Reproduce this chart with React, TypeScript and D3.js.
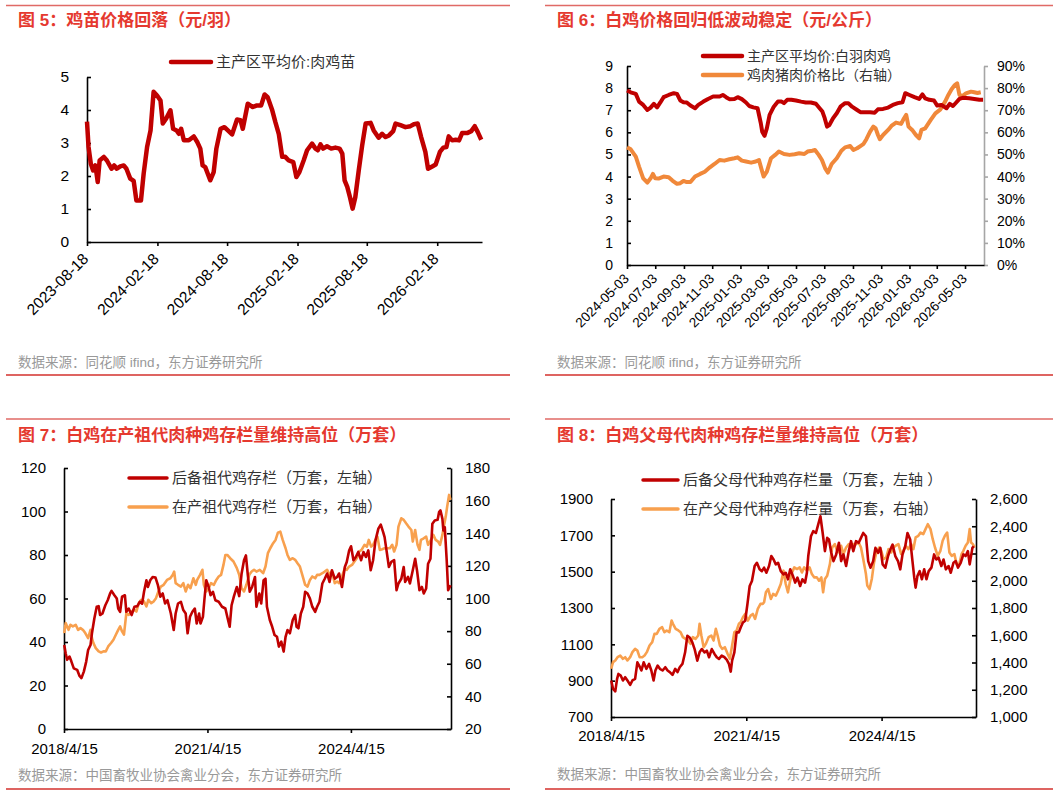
import React, { useEffect, useRef } from 'react';
import * as d3 from 'd3';

const W = 1061;
const H = 796;
const FONT = "'Liberation Sans', 'Noto Sans CJK SC', sans-serif";
const RED = '#C00000';
const ORANGE_6 = '#F0883A';
const ORANGE = '#F8A04E';
const TITLE_RED = '#E5392F';

// ---------- 图5 ----------
const P5_TICKS = ['2023-08-18', '2024-02-18', '2024-08-18', '2025-02-18', '2025-08-18', '2026-02-18'];
const chickPrice: [string, number][] = [
  ['2023-08-18', 3.65], ['2023-08-22', 2.88], ['2023-08-28', 2.37], ['2023-09-03', 2.17], ['2023-09-09', 2.32],
  ['2023-09-15', 1.82], ['2023-09-20', 2.47], ['2023-10-01', 2.58], ['2023-10-09', 2.47], ['2023-10-21', 2.22],
  ['2023-10-28', 2.32], ['2023-11-04', 2.22], ['2023-11-13', 2.29], ['2023-11-22', 2.32], ['2023-11-29', 2.22],
  ['2023-12-09', 1.92], ['2023-12-18', 1.85], ['2023-12-25', 1.26], ['2024-01-06', 1.26], ['2024-01-13', 2.07],
  ['2024-01-22', 2.88], ['2024-01-31', 3.38], ['2024-02-08', 4.55], ['2024-02-17', 4.44], ['2024-02-26', 4.29],
  ['2024-03-03', 3.59], ['2024-03-12', 3.74], ['2024-03-23', 3.99], ['2024-03-30', 3.43], ['2024-04-08', 3.38],
  ['2024-04-14', 3.28], ['2024-04-20', 3.43], ['2024-04-27', 3.08], ['2024-05-10', 3.08], ['2024-05-23', 3.2],
  ['2024-06-01', 3.03], ['2024-06-09', 2.83], ['2024-06-15', 2.32], ['2024-06-22', 2.27], ['2024-07-05', 1.87],
  ['2024-07-14', 2.12], ['2024-07-21', 2.83], ['2024-08-01', 3.43], ['2024-08-11', 3.48], ['2024-08-20', 3.38],
  ['2024-08-31', 3.26], ['2024-09-13', 3.71], ['2024-09-22', 3.69], ['2024-09-28', 3.43], ['2024-10-05', 3.84],
  ['2024-10-11', 4.19], ['2024-10-24', 4.09], ['2024-11-04', 4.14], ['2024-11-15', 4.14], ['2024-11-24', 4.47],
  ['2024-12-02', 4.39], ['2024-12-14', 3.99], ['2024-12-22', 3.64], ['2024-12-31', 3.28], ['2025-01-09', 2.58],
  ['2025-01-17', 2.58], ['2025-01-26', 2.47], ['2025-02-07', 2.42], ['2025-02-15', 1.97], ['2025-02-23', 2.12],
  ['2025-03-06', 2.47], ['2025-03-15', 2.78], ['2025-03-28', 2.98], ['2025-04-06', 2.83], ['2025-04-12', 2.78],
  ['2025-04-19', 2.96], ['2025-04-26', 2.83], ['2025-05-06', 2.9], ['2025-05-17', 2.83], ['2025-05-28', 2.86],
  ['2025-06-08', 2.83], ['2025-06-15', 2.68], ['2025-06-21', 1.87], ['2025-06-28', 1.67], ['2025-07-05', 1.36],
  ['2025-07-12', 1.01], ['2025-07-19', 1.36], ['2025-07-28', 2.17], ['2025-08-06', 2.93], ['2025-08-15', 3.59],
  ['2025-08-28', 3.61], ['2025-09-05', 3.38], ['2025-09-18', 3.16], ['2025-09-27', 3.28], ['2025-10-06', 3.18],
  ['2025-10-15', 3.23], ['2025-10-26', 3.36], ['2025-11-01', 3.59], ['2025-11-14', 3.54], ['2025-11-27', 3.48],
  ['2025-12-10', 3.51], ['2025-12-19', 3.57], ['2025-12-29', 3.59], ['2026-01-07', 3.18], ['2026-01-18', 2.73],
  ['2026-01-25', 2.22], ['2026-02-05', 2.29], ['2026-02-14', 2.35], ['2026-02-25', 2.73], ['2026-03-06', 2.86],
  ['2026-03-14', 2.88], ['2026-03-20', 3.2], ['2026-03-29', 3.08], ['2026-04-07', 3.1], ['2026-04-16', 3.08],
  ['2026-04-24', 3.3], ['2026-05-07', 3.3], ['2026-05-18', 3.36], ['2026-05-27', 3.51], ['2026-06-04', 3.33],
  ['2026-06-13', 3.1]
];

// ---------- 图6 ----------
const P6_TICKS = ['2024-05-03', '2024-07-03', '2024-09-03', '2024-11-03', '2025-01-03', '2025-03-03', '2025-05-03',
  '2025-07-03', '2025-09-03', '2025-11-03', '2026-01-03', '2026-03-03', '2026-05-03'];
const broilerPrice: [string, number][] = [
  ['2024-05-03', 7.89], ['2024-05-11', 7.81], ['2024-05-22', 7.74], ['2024-05-29', 7.39], ['2024-06-07', 7.24],
  ['2024-06-16', 7.01], ['2024-06-23', 7.12], ['2024-06-30', 7.29], ['2024-07-07', 7.13], ['2024-07-14', 7.35],
  ['2024-07-21', 7.59], ['2024-08-01', 7.69], ['2024-08-12', 7.77], ['2024-08-19', 7.74], ['2024-08-26', 7.44],
  ['2024-09-02', 7.36], ['2024-09-09', 7.35], ['2024-09-17', 7.21], ['2024-09-27', 7.09], ['2024-10-04', 7.24],
  ['2024-10-15', 7.39], ['2024-10-25', 7.51], ['2024-11-05', 7.62], ['2024-11-19', 7.62], ['2024-11-26', 7.69],
  ['2024-12-03', 7.59], ['2024-12-10', 7.5], ['2024-12-21', 7.51], ['2024-12-28', 7.59], ['2025-01-06', 7.5],
  ['2025-01-15', 7.35], ['2025-01-22', 7.19], ['2025-01-31', 7.13], ['2025-02-09', 7.09], ['2025-02-16', 6.41],
  ['2025-02-19', 6.03], ['2025-02-24', 5.84], ['2025-03-01', 6.18], ['2025-03-07', 6.79], ['2025-03-16', 7.16],
  ['2025-03-25', 7.39], ['2025-04-02', 7.39], ['2025-04-07', 7.32], ['2025-04-14', 7.47], ['2025-04-23', 7.47],
  ['2025-05-03', 7.44], ['2025-05-14', 7.39], ['2025-05-24', 7.35], ['2025-06-04', 7.35], ['2025-06-15', 7.29],
  ['2025-06-23', 7.09], ['2025-06-29', 6.94], ['2025-07-04', 6.64], ['2025-07-09', 6.26], ['2025-07-14', 6.33],
  ['2025-07-22', 6.64], ['2025-07-30', 6.86], ['2025-08-07', 7.16], ['2025-08-17', 7.32], ['2025-08-24', 7.32],
  ['2025-09-01', 7.16], ['2025-09-12', 7.01], ['2025-09-19', 6.91], ['2025-09-29', 6.91], ['2025-10-10', 6.91],
  ['2025-10-20', 6.89], ['2025-10-27', 7.04], ['2025-11-07', 7.06], ['2025-11-18', 7.12], ['2025-11-28', 7.24],
  ['2025-12-09', 7.32], ['2025-12-19', 7.36], ['2025-12-25', 7.77], ['2026-01-03', 7.69], ['2026-01-14', 7.59],
  ['2026-01-24', 7.51], ['2026-01-31', 7.72], ['2026-02-06', 7.54], ['2026-02-15', 7.47], ['2026-02-25', 7.44],
  ['2026-03-04', 7.21], ['2026-03-13', 7.24], ['2026-03-24', 7.09], ['2026-03-31', 7.29], ['2026-04-07', 7.19],
  ['2026-04-14', 7.35], ['2026-04-21', 7.51], ['2026-04-28', 7.56], ['2026-05-12', 7.54], ['2026-05-23', 7.51],
  ['2026-06-03', 7.47], ['2026-06-11', 7.47]
];
const meatPorkRatio: [string, number][] = [
  ['2024-05-03', 53.2], ['2024-05-11', 52.3], ['2024-05-22', 49.0], ['2024-05-29', 44.5], ['2024-06-07', 39.2],
  ['2024-06-16', 37.3], ['2024-06-23', 39.2], ['2024-06-28', 41.2], ['2024-07-03', 39.2], ['2024-07-10', 39.1],
  ['2024-07-21', 40.0], ['2024-08-01', 39.7], ['2024-08-09', 38.2], ['2024-08-19', 36.7], ['2024-08-26', 37.0],
  ['2024-09-02', 38.0], ['2024-09-09', 37.5], ['2024-09-17', 37.5], ['2024-09-27', 40.0], ['2024-10-08', 41.2],
  ['2024-10-18', 42.2], ['2024-10-29', 44.2], ['2024-11-08', 45.7], ['2024-11-19', 47.5], ['2024-11-29', 47.2],
  ['2024-12-10', 47.8], ['2024-12-21', 48.3], ['2024-12-28', 48.7], ['2025-01-06', 47.2], ['2025-01-15', 46.8],
  ['2025-01-26', 46.3], ['2025-02-05', 46.8], ['2025-02-12', 47.5], ['2025-02-17', 43.7], ['2025-02-22', 40.0],
  ['2025-03-01', 42.2], ['2025-03-10', 48.3], ['2025-03-19', 49.8], ['2025-03-27', 51.3], ['2025-04-07', 50.2],
  ['2025-04-19', 49.8], ['2025-04-30', 50.1], ['2025-05-10', 50.5], ['2025-05-21', 50.2], ['2025-05-28', 51.3],
  ['2025-06-07', 51.7], ['2025-06-13', 52.0], ['2025-06-21', 49.8], ['2025-06-28', 47.5], ['2025-07-05', 43.7],
  ['2025-07-11', 41.8], ['2025-07-19', 45.7], ['2025-07-30', 48.3], ['2025-08-09', 51.7], ['2025-08-17', 53.2],
  ['2025-08-28', 53.8], ['2025-09-04', 52.0], ['2025-09-12', 52.8], ['2025-09-19', 53.8], ['2025-09-26', 54.8],
  ['2025-10-02', 56.9], ['2025-10-10', 60.3], ['2025-10-17', 62.6], ['2025-10-22', 61.8], ['2025-10-27', 58.8],
  ['2025-10-31', 56.9], ['2025-11-07', 58.8], ['2025-11-18', 61.1], ['2025-11-25', 62.9], ['2025-12-05', 64.4],
  ['2025-12-16', 63.8], ['2025-12-21', 65.9], ['2025-12-27', 67.9], ['2026-01-01', 62.6], ['2026-01-10', 60.8],
  ['2026-01-17', 58.8], ['2026-01-24', 57.3], ['2026-01-29', 61.1], ['2026-02-06', 61.8], ['2026-02-18', 65.6],
  ['2026-02-28', 68.6], ['2026-03-11', 70.4], ['2026-03-21', 73.9], ['2026-03-28', 76.9], ['2026-04-04', 79.5],
  ['2026-04-11', 81.4], ['2026-04-16', 82.2], ['2026-04-21', 76.9], ['2026-04-28', 76.5], ['2026-05-05', 77.6],
  ['2026-05-16', 78.4], ['2026-05-23', 78.1], ['2026-05-30', 77.8], ['2026-06-06', 78.1]
];

// ---------- 图7 / 图8 (x in decimal years) ----------
const STOCK_TICKS = ['2018-04-15', '2021-04-15', '2024-04-15'];
const STOCK_START = 2018.285;
const STOCK_END = 2026.38;
const P7_LEFT_TICKS = [0, 20, 40, 60, 80, 100, 120];
const P7_RIGHT_TICKS = [20, 40, 60, 80, 100, 120, 140, 160, 180];
const P8_LEFT_TICKS = [700, 900, 1100, 1300, 1500, 1700, 1900];
const P8_RIGHT_TICKS = [1000, 1200, 1400, 1600, 1800, 2000, 2200, 2400, 2600];

const reserveGP: [number, number][] = [
  [2018.29, 38.6], [2018.32, 34.8], [2018.35, 31.8], [2018.40, 33.3], [2018.44, 31.0], [2018.49, 27.9], [2018.56, 27.2],
  [2018.61, 24.4], [2018.65, 23.4], [2018.70, 26.4], [2018.75, 31.0], [2018.79, 36.3], [2018.84, 38.6], [2018.87, 44.0],
  [2018.92, 50.8], [2018.97, 56.2], [2019.01, 56.5], [2019.04, 52.4], [2019.09, 53.1], [2019.15, 56.9], [2019.20, 59.2],
  [2019.25, 62.3], [2019.28, 63.5], [2019.34, 61.5], [2019.39, 60.0], [2019.42, 55.4], [2019.46, 53.9], [2019.50, 60.8],
  [2019.56, 61.5], [2019.59, 53.9], [2019.64, 55.4], [2019.70, 52.4], [2019.76, 56.2], [2019.82, 56.5], [2019.87, 58.5],
  [2019.92, 57.6], [2019.96, 63.1], [2020.01, 68.4], [2020.04, 65.3], [2020.09, 68.4], [2020.14, 69.9], [2020.20, 69.6],
  [2020.25, 66.1], [2020.30, 60.8], [2020.35, 62.3], [2020.40, 57.7], [2020.45, 59.2], [2020.52, 53.1], [2020.58, 45.5],
  [2020.62, 53.1], [2020.67, 57.7], [2020.73, 58.5], [2020.78, 54.7], [2020.83, 53.1], [2020.87, 44.0], [2020.92, 51.6],
  [2020.97, 53.9], [2021.02, 55.4], [2021.06, 48.5], [2021.11, 53.1], [2021.14, 48.5], [2021.19, 51.6], [2021.22, 59.2],
  [2021.26, 68.4], [2021.31, 65.3], [2021.35, 61.5], [2021.40, 63.1], [2021.45, 59.2], [2021.52, 58.5], [2021.59, 56.2],
  [2021.66, 55.4], [2021.70, 51.6], [2021.75, 47.0], [2021.79, 56.9], [2021.84, 61.1], [2021.90, 65.3], [2021.95, 61.1],
  [2022.00, 71.5], [2022.05, 77.6], [2022.09, 79.8], [2022.13, 70.7], [2022.17, 63.1], [2022.22, 65.3], [2022.28, 69.9],
  [2022.31, 56.2], [2022.37, 62.3], [2022.41, 57.7], [2022.46, 68.4], [2022.50, 69.1], [2022.53, 56.2], [2022.59, 50.1],
  [2022.64, 47.0], [2022.69, 43.2], [2022.74, 42.4], [2022.78, 37.9], [2022.83, 40.2], [2022.88, 35.6], [2022.92, 42.4],
  [2022.96, 45.5], [2023.01, 44.0], [2023.07, 50.1], [2023.12, 52.4], [2023.15, 47.0], [2023.19, 46.3], [2023.24, 53.1],
  [2023.29, 56.2], [2023.33, 63.1], [2023.38, 62.3], [2023.43, 60.0], [2023.48, 56.2], [2023.54, 53.9], [2023.58, 56.2],
  [2023.63, 58.5], [2023.69, 66.9], [2023.74, 69.1], [2023.79, 71.5], [2023.84, 67.6], [2023.89, 73.0], [2023.95, 69.1],
  [2024.00, 69.9], [2024.04, 71.5], [2024.10, 65.3], [2024.16, 74.5], [2024.20, 76.8], [2024.25, 82.1], [2024.29, 84.0],
  [2024.34, 77.6], [2024.39, 79.1], [2024.44, 81.4], [2024.50, 77.6], [2024.55, 81.4], [2024.60, 79.1], [2024.65, 82.1],
  [2024.70, 73.0], [2024.75, 77.6], [2024.80, 86.7], [2024.86, 92.1], [2024.91, 94.0], [2024.96, 90.5], [2024.99, 88.2],
  [2025.03, 82.1], [2025.08, 74.5], [2025.13, 76.8], [2025.19, 77.6], [2025.24, 63.8], [2025.28, 66.9], [2025.34, 69.1],
  [2025.39, 74.5], [2025.42, 67.6], [2025.48, 69.9], [2025.52, 66.9], [2025.58, 73.0], [2025.63, 78.3], [2025.67, 72.7],
  [2025.72, 63.8], [2025.77, 65.3], [2025.81, 62.3], [2025.86, 64.6], [2025.90, 76.0], [2025.95, 78.3], [2025.99, 94.4],
  [2026.04, 95.9], [2026.10, 96.2], [2026.13, 99.7], [2026.16, 100.5], [2026.20, 96.6], [2026.22, 91.3], [2026.25, 92.8],
  [2026.29, 77.6], [2026.32, 63.8], [2026.37, 66.1]
];
const layingGP: [number, number][] = [
  [2018.29, 78.8], [2018.32, 84.9], [2018.38, 80.8], [2018.42, 83.9], [2018.47, 82.9], [2018.53, 83.9], [2018.58, 80.8],
  [2018.63, 81.8], [2018.68, 80.8], [2018.73, 78.8], [2018.79, 75.7], [2018.84, 80.8], [2018.87, 75.7], [2018.90, 72.7],
  [2018.95, 69.6], [2019.01, 67.6], [2019.06, 66.9], [2019.11, 67.6], [2019.16, 67.6], [2019.21, 70.6], [2019.27, 72.7],
  [2019.32, 74.7], [2019.37, 77.8], [2019.42, 80.8], [2019.46, 82.9], [2019.50, 79.8], [2019.54, 77.8], [2019.59, 91.0],
  [2019.64, 90.0], [2019.70, 92.0], [2019.75, 93.0], [2019.80, 92.0], [2019.85, 97.1], [2019.90, 99.2], [2019.96, 98.2],
  [2020.01, 95.1], [2020.05, 99.2], [2020.11, 97.1], [2020.16, 98.2], [2020.21, 100.2], [2020.26, 104.3], [2020.31, 107.3],
  [2020.37, 108.4], [2020.44, 111.4], [2020.51, 112.4], [2020.56, 114.5], [2020.59, 116.5], [2020.62, 109.4], [2020.67, 108.4],
  [2020.73, 107.3], [2020.78, 109.4], [2020.83, 104.3], [2020.88, 108.4], [2020.93, 106.3], [2020.99, 112.4], [2021.04, 108.4],
  [2021.07, 111.4], [2021.13, 114.5], [2021.18, 117.6], [2021.21, 108.4], [2021.26, 104.3], [2021.31, 106.3], [2021.36, 109.4],
  [2021.42, 108.4], [2021.47, 111.4], [2021.52, 113.5], [2021.57, 114.5], [2021.62, 120.6], [2021.66, 126.7], [2021.70, 126.7],
  [2021.76, 124.7], [2021.83, 122.7], [2021.90, 118.6], [2021.95, 114.5], [2022.00, 106.3], [2022.05, 104.3], [2022.10, 108.4],
  [2022.16, 114.5], [2022.21, 116.5], [2022.26, 117.6], [2022.31, 116.5], [2022.38, 117.6], [2022.45, 115.5], [2022.50, 119.6],
  [2022.55, 127.8], [2022.60, 130.8], [2022.66, 133.9], [2022.71, 135.9], [2022.76, 140.4], [2022.81, 141.0], [2022.86, 135.9],
  [2022.92, 130.8], [2022.96, 126.7], [2023.01, 123.7], [2023.07, 124.7], [2023.12, 123.7], [2023.17, 121.6], [2023.22, 119.6],
  [2023.27, 114.5], [2023.33, 108.4], [2023.38, 107.3], [2023.43, 111.4], [2023.48, 113.5], [2023.54, 112.4], [2023.58, 114.5],
  [2023.63, 114.5], [2023.69, 115.5], [2023.74, 116.5], [2023.79, 117.6], [2023.84, 114.5], [2023.89, 116.5], [2023.95, 109.4],
  [2024.00, 110.4], [2024.04, 109.4], [2024.10, 113.5], [2024.16, 118.6], [2024.20, 117.6], [2024.25, 119.6], [2024.31, 120.6],
  [2024.36, 122.7], [2024.41, 124.7], [2024.46, 128.8], [2024.51, 129.8], [2024.57, 132.9], [2024.62, 131.8], [2024.66, 135.9],
  [2024.71, 131.8], [2024.75, 132.9], [2024.80, 135.9], [2024.84, 138.0], [2024.89, 129.8], [2024.94, 130.2], [2024.99, 130.8],
  [2025.05, 130.8], [2025.10, 130.8], [2025.15, 132.9], [2025.19, 128.8], [2025.24, 132.9], [2025.28, 144.1], [2025.34, 149.2],
  [2025.39, 148.2], [2025.44, 146.1], [2025.49, 144.1], [2025.55, 142.0], [2025.58, 134.9], [2025.63, 142.0], [2025.68, 132.9],
  [2025.72, 129.8], [2025.75, 135.9], [2025.81, 136.9], [2025.86, 138.0], [2025.90, 132.9], [2025.96, 135.9], [2026.01, 139.0],
  [2026.06, 135.9], [2026.11, 134.9], [2026.15, 132.9], [2026.20, 139.0], [2026.23, 144.1], [2026.27, 150.2], [2026.30, 156.3],
  [2026.34, 163.5], [2026.37, 160.4]
];

const reservePS: [number, number][] = [
  [2018.29, 901], [2018.33, 855], [2018.38, 841], [2018.42, 910], [2018.45, 937], [2018.50, 928], [2018.55, 901],
  [2018.60, 919], [2018.65, 901], [2018.71, 877], [2018.76, 901], [2018.82, 910], [2018.87, 1001], [2018.91, 983],
  [2018.96, 956], [2019.01, 1001], [2019.07, 965], [2019.13, 992], [2019.18, 956], [2019.23, 901], [2019.27, 956],
  [2019.32, 983], [2019.37, 965], [2019.43, 956], [2019.49, 974], [2019.54, 956], [2019.59, 947], [2019.65, 932],
  [2019.71, 965], [2019.76, 947], [2019.81, 974], [2019.87, 992], [2019.93, 1056], [2019.98, 1147], [2020.03, 1138],
  [2020.09, 1111], [2020.14, 1074], [2020.20, 1010], [2020.25, 1056], [2020.30, 1074], [2020.36, 1056], [2020.41, 1065],
  [2020.46, 1029], [2020.52, 1074], [2020.58, 1047], [2020.63, 1029], [2020.68, 1020], [2020.74, 1038], [2020.80, 1029],
  [2020.85, 1016], [2020.90, 992], [2020.94, 950], [2020.97, 1010], [2021.02, 1056], [2021.07, 1166], [2021.12, 1166],
  [2021.16, 1193], [2021.21, 1220], [2021.26, 1230], [2021.31, 1321], [2021.36, 1421], [2021.41, 1449], [2021.47, 1531],
  [2021.52, 1549], [2021.58, 1513], [2021.63, 1503], [2021.68, 1522], [2021.73, 1494], [2021.79, 1531], [2021.84, 1586],
  [2021.89, 1567], [2021.94, 1540], [2021.99, 1549], [2022.05, 1503], [2022.11, 1485], [2022.16, 1494], [2022.21, 1458],
  [2022.26, 1513], [2022.32, 1476], [2022.37, 1440], [2022.42, 1467], [2022.48, 1421], [2022.53, 1458], [2022.59, 1440],
  [2022.63, 1494], [2022.66, 1586], [2022.72, 1695], [2022.77, 1723], [2022.83, 1713], [2022.88, 1759], [2022.93, 1805],
  [2022.98, 1713], [2023.03, 1613], [2023.08, 1686], [2023.12, 1677], [2023.17, 1604], [2023.22, 1558], [2023.28, 1595],
  [2023.34, 1659], [2023.39, 1558], [2023.44, 1595], [2023.50, 1531], [2023.56, 1613], [2023.61, 1668], [2023.66, 1613],
  [2023.72, 1668], [2023.78, 1659], [2023.83, 1686], [2023.88, 1713], [2023.94, 1695], [2023.99, 1558], [2024.04, 1522],
  [2024.10, 1558], [2024.15, 1631], [2024.21, 1604], [2024.26, 1631], [2024.31, 1540], [2024.37, 1522], [2024.43, 1586],
  [2024.48, 1622], [2024.53, 1649], [2024.59, 1586], [2024.65, 1558], [2024.70, 1513], [2024.75, 1595], [2024.81, 1640],
  [2024.86, 1713], [2024.92, 1677], [2024.97, 1558], [2025.01, 1467], [2025.04, 1412], [2025.08, 1476], [2025.13, 1503],
  [2025.18, 1458], [2025.23, 1513], [2025.28, 1458], [2025.33, 1503], [2025.39, 1522], [2025.45, 1595], [2025.50, 1567],
  [2025.55, 1577], [2025.61, 1531], [2025.66, 1567], [2025.71, 1513], [2025.77, 1531], [2025.82, 1494], [2025.88, 1549],
  [2025.93, 1558], [2025.98, 1522], [2026.04, 1549], [2026.10, 1595], [2026.15, 1586], [2026.20, 1613], [2026.24, 1540],
  [2026.30, 1631], [2026.33, 1640]
];
const layingPS: [number, number][] = [
  [2018.29, 1354], [2018.33, 1403], [2018.38, 1415], [2018.43, 1439], [2018.49, 1451], [2018.55, 1427], [2018.60, 1439],
  [2018.65, 1415], [2018.71, 1439], [2018.76, 1476], [2018.82, 1500], [2018.87, 1488], [2018.92, 1439], [2018.98, 1439],
  [2019.03, 1451], [2019.08, 1476], [2019.14, 1525], [2019.20, 1549], [2019.25, 1610], [2019.30, 1610], [2019.36, 1647],
  [2019.42, 1659], [2019.47, 1622], [2019.52, 1635], [2019.58, 1622], [2019.63, 1708], [2019.66, 1684], [2019.72, 1647],
  [2019.78, 1635], [2019.83, 1622], [2019.88, 1586], [2019.94, 1573], [2020.00, 1561], [2020.05, 1537], [2020.10, 1586],
  [2020.16, 1573], [2020.22, 1598], [2020.25, 1684], [2020.29, 1598], [2020.34, 1512], [2020.39, 1537], [2020.45, 1586],
  [2020.51, 1598], [2020.56, 1561], [2020.61, 1647], [2020.65, 1598], [2020.70, 1525], [2020.75, 1500], [2020.81, 1512],
  [2020.87, 1464], [2020.92, 1427], [2020.97, 1525], [2021.02, 1622], [2021.07, 1635], [2021.12, 1684], [2021.16, 1696],
  [2021.21, 1732], [2021.26, 1756], [2021.32, 1708], [2021.38, 1744], [2021.43, 1756], [2021.48, 1720], [2021.54, 1793],
  [2021.60, 1830], [2021.65, 1830], [2021.68, 1842], [2021.72, 1915], [2021.77, 1939], [2021.83, 1866], [2021.88, 1903],
  [2021.94, 1891], [2021.99, 1927], [2022.05, 1976], [2022.11, 2074], [2022.16, 1976], [2022.21, 1915], [2022.25, 1988],
  [2022.30, 2061], [2022.35, 2098], [2022.41, 2086], [2022.47, 2098], [2022.52, 2061], [2022.57, 2098], [2022.63, 2074],
  [2022.69, 2098], [2022.74, 2049], [2022.79, 2025], [2022.85, 2025], [2022.90, 2000], [2022.95, 2025], [2022.99, 1915],
  [2023.03, 2013], [2023.08, 2037], [2023.14, 2122], [2023.19, 2244], [2023.25, 2269], [2023.30, 2220], [2023.34, 2208],
  [2023.39, 2257], [2023.44, 2196], [2023.50, 2244], [2023.56, 2269], [2023.61, 2244], [2023.66, 2269], [2023.72, 2269],
  [2023.78, 2281], [2023.83, 2244], [2023.88, 2159], [2023.94, 2049], [2023.97, 1964], [2024.02, 1939], [2024.07, 2013],
  [2024.12, 2135], [2024.17, 2208], [2024.23, 2244], [2024.28, 2220], [2024.33, 2159], [2024.39, 2171], [2024.44, 2232],
  [2024.50, 2208], [2024.55, 2244], [2024.60, 2257], [2024.66, 2269], [2024.72, 2196], [2024.77, 2220], [2024.82, 2257],
  [2024.88, 2232], [2024.94, 2269], [2024.99, 2232], [2025.04, 2318], [2025.10, 2330], [2025.15, 2354], [2025.21, 2342],
  [2025.26, 2379], [2025.31, 2415], [2025.37, 2379], [2025.42, 2305], [2025.47, 2244], [2025.53, 2183], [2025.59, 2220],
  [2025.64, 2293], [2025.69, 2330], [2025.74, 2354], [2025.79, 2208], [2025.84, 2183], [2025.90, 2196], [2025.95, 2122],
  [2026.01, 2122], [2026.06, 2196], [2026.10, 2220], [2026.15, 2257], [2026.20, 2281], [2026.24, 2379], [2026.27, 2281],
  [2026.31, 2269], [2026.35, 2244]
];

const parseDay = d3.timeParse('%Y-%m-%d');
const fromDecimalYear = (t: number) => {
  const y = Math.floor(t);
  const a = new Date(y, 0, 1).getTime();
  const b = new Date(y + 1, 0, 1).getTime();
  return new Date(a + (t - y) * (b - a));
};

type Sel = d3.Selection<any, unknown, null, undefined>;

const styleAxis = (g: Sel, size: number, color = '#000') => {
  g.attr('font-family', FONT).attr('font-size', size);
  g.select('.domain').attr('stroke', color).attr('stroke-width', 1.6);
  g.selectAll('.tick line').attr('stroke', color).attr('stroke-width', 1.6);
  g.selectAll('.tick text').attr('fill', '#000');
};

const frame = (svg: Sel, x0: number, x1: number, top: number, bottom: number, title: string, titleY: number, source: string, sourceY: number) => {
  svg.append('line').attr('x1', x0).attr('x2', x1).attr('y1', top).attr('y2', top)
    .attr('stroke', '#E06A66').attr('stroke-width', 1.5);
  svg.append('line').attr('x1', x0).attr('x2', x1).attr('y1', bottom).attr('y2', bottom)
    .attr('stroke', '#D3302C').attr('stroke-width', 1.5);
  svg.append('text').attr('x', x0 + 12).attr('y', titleY).attr('font-family', FONT).attr('font-size', 17)
    .attr('font-weight', 'bold').attr('fill', TITLE_RED).text(title);
  svg.append('text').attr('x', x0 + 12).attr('y', sourceY).attr('dy', '0.35em').attr('font-family', FONT)
    .attr('font-size', 13.5).attr('fill', '#999').text(source);
};

const legendItem = (svg: Sel, x0: number, x1: number, y: number, color: string, width: number, label: string, size: number) => {
  svg.append('line').attr('x1', x0).attr('x2', x1).attr('y1', y).attr('y2', y)
    .attr('stroke', color).attr('stroke-width', width).attr('stroke-linecap', 'round');
  svg.append('text').attr('x', x1 + 5).attr('y', y).attr('dy', '0.35em').attr('font-family', FONT)
    .attr('font-size', size).attr('fill', '#333').text(label);
};

const drawLine = (svg: Sel, data: [any, number][], x: (d: any) => number, y: (v: number) => number, color: string, width: number) => {
  const gen = d3.line<[any, number]>().x((d) => x(d[0])).y((d) => y(d[1]));
  svg.append('path').datum(data).attr('d', gen).attr('fill', 'none').attr('stroke', color)
    .attr('stroke-width', width).attr('stroke-linejoin', 'round');
};

const drawChart5 = (svg: Sel) => {
  const x = d3.scaleTime().domain([parseDay('2023-08-18')!, parseDay('2026-06-15')!]).range([87, 482]);
  const y = d3.scaleLinear().domain([0, 5]).range([242, 77]);
  const gy = svg.append('g').attr('transform', 'translate(87,0)')
    .call(d3.axisLeft(y).ticks(5).tickSize(-4).tickSizeOuter(0).tickPadding(18));
  styleAxis(gy, 15.5);
  const gx = svg.append('g').attr('transform', 'translate(0,242)')
    .call(d3.axisBottom(x).tickValues(P5_TICKS.map((d) => parseDay(d)!)).tickFormat(d3.timeFormat('%Y-%m-%d') as any)
      .tickSize(4).tickSizeOuter(0));
  styleAxis(gx, 15.5);
  gx.selectAll('.tick text').attr('x', 0).attr('y', 0).attr('dy', '0.35em').attr('text-anchor', 'end')
    .attr('transform', 'translate(-2,14) rotate(-45)');
  drawLine(svg, chickPrice, (d) => x(parseDay(d)!), y, RED, 4.5);
  legendItem(svg, 171, 211, 62, RED, 4.5, '主产区平均价:肉鸡苗', 15);
};

const drawChart6 = (svg: Sel) => {
  const x = d3.scaleTime().domain([parseDay('2024-05-03')!, parseDay('2026-06-13')!]).range([627, 984]);
  const y = d3.scaleLinear().domain([0, 9]).range([265, 66]);
  const yr = d3.scaleLinear().domain([0, 90]).range([265, 66]);
  const gy = svg.append('g').attr('transform', 'translate(627,0)')
    .call(d3.axisLeft(y).ticks(9).tickSize(-4).tickSizeOuter(0).tickPadding(14));
  styleAxis(gy, 14);
  const gr = svg.append('g').attr('transform', 'translate(984,0)')
    .call(d3.axisRight(yr).ticks(9).tickFormat((d) => `${d}%`).tickSize(4).tickSizeOuter(0).tickPadding(9));
  styleAxis(gr, 14, '#A6A6A6');
  const gx = svg.append('g').attr('transform', 'translate(0,265)')
    .call(d3.axisBottom(x).tickValues(P6_TICKS.map((d) => parseDay(d)!)).tickFormat(d3.timeFormat('%Y-%m-%d') as any)
      .tickSize(4).tickSizeOuter(0));
  styleAxis(gx, 13.5);
  gx.selectAll('.tick text').attr('x', 0).attr('y', 0).attr('dy', '0.35em').attr('text-anchor', 'end')
    .attr('transform', 'translate(-1,11) rotate(-45)');
  drawLine(svg, meatPorkRatio, (d) => x(parseDay(d)!), yr, ORANGE_6, 4);
  drawLine(svg, broilerPrice, (d) => x(parseDay(d)!), y, RED, 4);
  legendItem(svg, 703, 742, 56, RED, 4.5, '主产区平均价:白羽肉鸡', 14);
  legendItem(svg, 703, 742, 75, ORANGE_6, 4.5, '鸡肉猪肉价格比（右轴）', 14);
};

const stockChart = (
  svg: Sel, x0: number, x1: number, yTop: number, yBot: number,
  leftTicks: number[], rightTicks: number[], rightFmt: (d: any) => string,
  left: [number, number][], right: [number, number][], labels: [string, string],
  legendX: [number, number], legendY: [number, number], labelPad: number
) => {
  const x = d3.scaleTime().domain([fromDecimalYear(STOCK_START), fromDecimalYear(STOCK_END)]).range([x0, x1]);
  const yl = d3.scaleLinear().domain(d3.extent(leftTicks) as [number, number]).range([yBot, yTop]);
  const yr = d3.scaleLinear().domain(d3.extent(rightTicks) as [number, number]).range([yBot, yTop]);
  const gy = svg.append('g').attr('transform', `translate(${x0},0)`)
    .call(d3.axisLeft(yl).tickValues(leftTicks).tickFormat((d) => `${d}`).tickSize(-4).tickSizeOuter(0).tickPadding(18));
  styleAxis(gy, 15);
  const gr = svg.append('g').attr('transform', `translate(${x1},0)`)
    .call(d3.axisRight(yr).tickValues(rightTicks).tickFormat(rightFmt).tickSize(-4).tickSizeOuter(0).tickPadding(14));
  styleAxis(gr, 15);
  const gx = svg.append('g').attr('transform', `translate(0,${yBot})`)
    .call(d3.axisBottom(x).tickValues(STOCK_TICKS.map((d) => parseDay(d)!)).tickFormat(d3.timeFormat('%Y/%-m/%-d') as any)
      .tickSize(4).tickSizeOuter(0).tickPadding(labelPad));
  styleAxis(gx, 15);
  drawLine(svg, right, (t) => x(fromDecimalYear(t)), yr, ORANGE, 2.6);
  drawLine(svg, left, (t) => x(fromDecimalYear(t)), yl, RED, 2.6);
  legendItem(svg, legendX[0], legendX[1], legendY[0], RED, 3.5, labels[0], 15);
  legendItem(svg, legendX[0], legendX[1], legendY[1], ORANGE, 3.5, labels[1], 15);
};

export default function App() {
  const svgRef = useRef<SVGSVGElement>(null);

  useEffect(() => {
    const svg = d3.select(svgRef.current) as unknown as Sel;
    svg.selectAll('*').remove();
    svg.append('rect').attr('width', W).attr('height', H).attr('fill', '#fff');

    const SRC_A = '数据来源：同花顺 ifind，东方证券研究所';
    const SRC_B = '数据来源：中国畜牧业协会禽业分会，东方证券研究所';
    frame(svg, 6, 510, 5.5, 375, '图 5：鸡苗价格回落（元/羽）', 26, SRC_A, 362);
    frame(svg, 545, 1053, 5.5, 375, '图 6：白鸡价格回归低波动稳定（元/公斤）', 26, SRC_A, 362);
    frame(svg, 6, 510, 419, 789, '图 7：白鸡在产祖代肉种鸡存栏量维持高位（万套）', 441, SRC_B, 775);
    frame(svg, 545, 1053, 419, 789, '图 8：白鸡父母代肉种鸡存栏量维持高位（万套）', 441, SRC_B, 774);

    drawChart5(svg);
    drawChart6(svg);
    stockChart(svg, 64, 451, 468, 729, P7_LEFT_TICKS, P7_RIGHT_TICKS, (d) => `${d}`, reserveGP, layingGP,
      ['后备祖代鸡存栏（万套，左轴）', '在产祖代鸡存栏（万套，右轴）'], [129, 167], [478, 507], 10);
    stockChart(svg, 611, 976, 499, 717, P8_LEFT_TICKS, P8_RIGHT_TICKS, d3.format(','), reservePS, layingPS,
      ['后备父母代种鸡存栏量（万套，左轴 ）', '在产父母代种鸡存栏量（万套，右轴）'], [643, 678], [480, 509], 9);
  }, []);

  return (
    <div style={{ position: 'absolute', left: 0, top: 0 }}>
      <svg ref={svgRef} width={W} height={H} style={{ display: 'block' }} />
    </div>
  );
}
